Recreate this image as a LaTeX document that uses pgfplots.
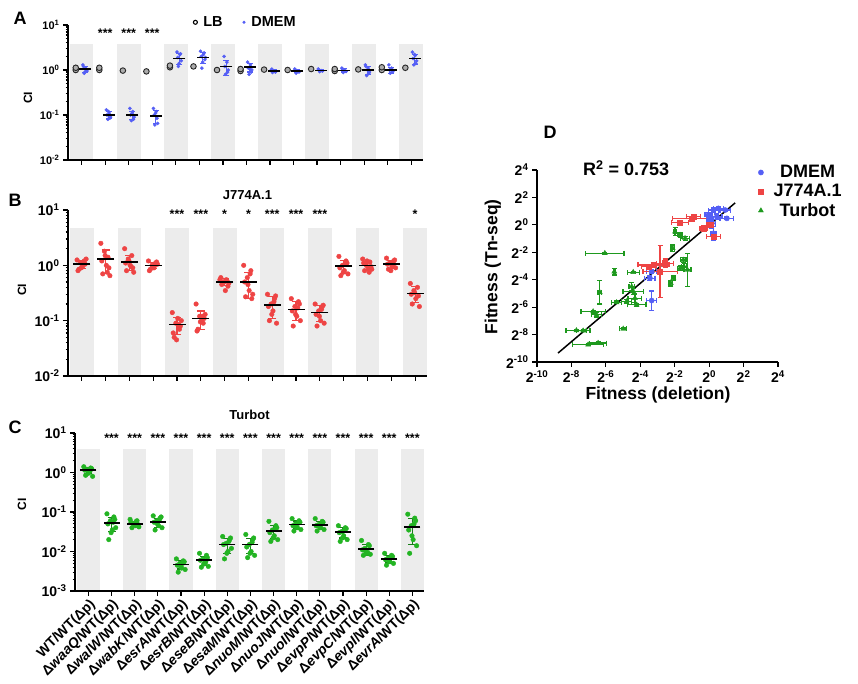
\documentclass[border=0pt]{standalone}
\usepackage{fontspec}
\setmainfont{Liberation Sans}
\usepackage{pgfplots}
\usepackage{pgfplotstable}
\pgfplotsset{compat=1.18}

\definecolor{cblue}{RGB}{85,95,245}
\definecolor{cred}{RGB}{238,68,68}
\definecolor{cgreen}{RGB}{35,180,35}
\definecolor{band}{RGB}{236,236,236}

\newcommand{\fs}[1]{\fontsize{#1}{#1}\selectfont\bfseries}
\newcommand{\bands}[2]{%
  \fill[band] (axis cs:-0.5,#1) rectangle (axis cs:0.5,#2);
  \fill[band] (axis cs:1.5,#1) rectangle (axis cs:2.5,#2);
  \fill[band] (axis cs:3.5,#1) rectangle (axis cs:4.5,#2);
  \fill[band] (axis cs:5.5,#1) rectangle (axis cs:6.5,#2);
  \fill[band] (axis cs:7.5,#1) rectangle (axis cs:8.5,#2);
  \fill[band] (axis cs:9.5,#1) rectangle (axis cs:10.5,#2);
  \fill[band] (axis cs:11.5,#1) rectangle (axis cs:12.5,#2);
  \fill[band] (axis cs:13.5,#1) rectangle (axis cs:14.5,#2);}
\newcommand{\jit}[4]{\addplot[forget plot, only marks, mark=*, #1] table[x expr=\thisrow{c}+#2, y=#3] {#4};}
\newcommand{\gl}[1]{Δ\textit{#1}/WT(Δp)}

% ---- panel A: LB / DMEM ----
\pgfplotstableread{
c  l1   l2
0  1.0  1.12
1  1.0  1.12
2  0.97 nan
3  0.93 nan
4  1.15 1.25
5  1.2  nan
6  1.0  nan
7  0.95 1.05
8  1.02 nan
9  1.0  nan
10 1.05 nan
11 0.95 1.05
12 1.03 nan
13 1.0  1.15
14 1.12 nan
}\ptsLB
\pgfplotstableread{
c  y1   y2    y3   y4    y5   y6    y7   y8
0  1.3  0.85  1.1  0.95  1.2  1.0   0.9  nan
1  0.13 0.08  0.11 0.09  0.1  0.085 0.12 nan
2  0.14 0.075 0.12 0.09  0.1  0.08  0.11 nan
3  0.14 0.06  0.12 0.065 0.1  0.085 0.11 nan
4  2.5  1.2   2.2  1.6   1.9  2.3   1.4  nan
5  2.6  1.1   2.2  1.7   2.0  2.4   1.5  1.9
6  2.0  0.8   1.5  1.0   1.2  0.9   nan  nan
7  1.5  0.8   1.3  1.0   1.1  0.9   nan  nan
8  1.0  0.88  0.95 0.9   1.05 nan   nan  nan
9  1.05 0.85  0.95 0.9   1.0  nan   nan  nan
10 1.05 0.92  0.97 0.95  1.0  nan   nan  nan
11 1.1  0.88  1.0  0.93  1.05 nan   nan  nan
12 1.3  0.75  1.1  0.9   1.2  0.85  1.0  nan
13 1.3  0.85  1.1  0.95  1.0  0.9   nan  nan
14 2.5  1.3   2.1  1.6   1.8  1.4   2.2  nan
}\ptsA
\pgfplotstableread{
c  m     sd
0  1.05  0.16
1  0.10  0.018
2  0.10  0.022
3  0.095 0.03
4  1.8   0.5
5  1.9   0.5
6  1.2   0.45
7  1.15  0.25
8  0.95  0.07
9  0.95  0.08
10 0.97  0.05
11 0.98  0.08
12 1.0   0.2
13 1.0   0.16
14 1.8   0.45
}\statA

% ---- panel B: J774A.1 ----
\pgfplotstableread{
c  y1    y2    y3    y4    y5    y6    y7    y8    y9    y10
0  1.25  0.85  1.1   0.95  1.2   1.3   0.8   1.05  0.9   1.15
1  2.5   0.7   1.8   1.0   1.4   0.65  1.2   0.9   1.5   0.75
2  2.0   0.8   1.3   1.0   1.5   0.75  1.1   0.9   1.2   0.95
3  1.2   0.85  1.0   0.9   1.1   1.05  0.8   1.15  0.95  1.0
4  0.14  0.05  0.09  0.11  0.07  0.1   0.06  0.08  0.045 0.085
5  0.2   0.07  0.12  0.1   0.09  0.13  0.065 0.11  0.095 0.12
6  0.55  0.45  0.5   0.35  0.52  0.48  0.6   0.42  0.5   0.55
7  1.0   0.27  0.6   0.35  0.8   0.3   0.5   0.25  0.45  0.7
8  0.3   0.1   0.2   0.15  0.25  0.09  0.18  0.28  0.13  0.22
9  0.25  0.08  0.18  0.12  0.22  0.1   0.15  0.2   0.13  0.17
10 0.2   0.08  0.15  0.1   0.18  0.09  0.13  0.19  0.12  0.16
11 1.45  0.65  1.0   0.8   1.2   0.7   0.9   1.1   0.75  1.05
12 1.3   0.8   1.0   0.9   1.15  0.85  1.1   0.95  1.2   0.75
13 1.35  0.85  1.1   0.95  1.2   0.9   1.05  1.25  0.8   1.0
14 0.47  0.2   0.35  0.25  0.4   0.18  0.3   0.28  0.32  nan
}\ptsB
\pgfplotstableread{
c  m     sd
0  1.05  0.17
1  1.3   0.6
2  1.15  0.35
3  1.0   0.13
4  0.085 0.028
5  0.11  0.04
6  0.5   0.07
7  0.5   0.25
8  0.19  0.08
9  0.16  0.06
10 0.14  0.045
11 0.97  0.25
12 1.0   0.18
13 1.05  0.18
14 0.31  0.1
}\statB

% ---- panel C: Turbot ----
\pgfplotstableread{
c  y1     y2     y3     y4     y5     y6     y7     y8     y9     y10
0  1.4    0.85   1.2    1.0    1.3    0.8    1.15   1.25   0.95   1.1
1  0.09   0.02   0.06   0.035  0.075  0.04   0.05   0.065  0.03   0.055
2  0.065  0.04   0.05   0.045  0.06   0.042  0.055  0.048  0.052  0.058
3  0.08   0.035  0.06   0.045  0.07   0.04   0.055  0.075  0.05   0.065
4  0.0065 0.003  0.005  0.0038 0.0058 0.0035 0.0045 0.0055 0.0042 0.005
5  0.009  0.004  0.0065 0.005  0.008  0.0042 0.006  0.007  0.0048 0.0055
6  0.024  0.0065 0.016  0.01   0.02   0.012  0.015  0.022  0.009  0.018
7  0.027  0.007  0.015  0.01   0.02   0.008  0.013  0.022  0.009  0.017
8  0.058  0.018  0.035  0.025  0.045  0.02   0.03   0.04   0.022  0.037
9  0.068  0.033  0.05   0.04   0.06   0.036  0.045  0.055  0.042  0.052
10 0.068  0.033  0.048  0.04   0.058  0.036  0.045  0.055  0.042  0.05
11 0.045  0.018  0.032  0.025  0.04   0.02   0.03   0.038  0.022  0.035
12 0.019  0.008  0.012  0.009  0.015  0.0085 0.011  0.014  0.01   0.0095
13 0.009  0.0045 0.0068 0.0055 0.008  0.005  0.0062 0.0075 0.0058 0.007
14 0.088  0.009  0.045  0.02   0.07   0.014  0.035  0.06   0.025  0.05
}\ptsC
\pgfplotstableread{
c  m      sd
0  1.15   0.2
1  0.052  0.02
2  0.05   0.008
3  0.055  0.015
4  0.0047 0.0011
5  0.006  0.0016
6  0.015  0.006
7  0.015  0.006
8  0.033  0.012
9  0.048  0.011
10 0.047  0.011
11 0.031  0.009
12 0.0115 0.0035
13 0.0065 0.0014
14 0.042  0.027
}\statC

% ---- panel D: log2 fitness ----
\pgfplotstableread{
x     y     ex   ey
-3.34 -5.52 0.3  0.7
-3.44 -3.89 0.3  0.15
-3.34 -3.41 0.3  0.15
0.06  0.35  0.2  0.3
0.25  1.08  0.3  0.15
0.54  1.20  0.3  0.1
0.93  1.08  0.3  0.1
1.03  0.47  0.4  0.1
0.25  -0.62 0.15 0.5
-0.04 0.72  0.2  0.2
0.16  0.11  0.2  0.4
0.45  0.59  0.3  0.2
0.0   0.5   0.15 0.3
}\dmem
\pgfplotstableread{
x     y     ex   ey
-2.85 -3.4  1.0  1.9
-3.24 -2.92 0.9  0.2
-2.56 -2.80 0.5  0.3
-3.53 -3.04 0.4  0.15
-1.01 0.47  1.1  0.1
-0.91 0.59  0.4  0.15
-1.69 0.18  0.5  0.1
-0.33 -0.25 0.2  0.2
0.25  -0.86 0.4  0.1
0.06  -0.01 0.2  0.2
}\jseven
\pgfplotstableread{
x     y     ex   ey
-6.06 -2.07 1.12 0.05
-5.51 -3.41 0.05 0.25
-4.41 -3.45 0.35 0.05
-6.35 -4.93 0.1  0.85
-6.74 -6.32 0.7  0.1
-6.54 -6.56 0.3  0.15
-7.71 -7.70 0.6  0.05
-7.32 -7.72 0.4  0.05
-7.03 -8.74 0.9  0.05
-6.45 -8.62 0.5  0.1
-4.99 -7.58 0.2  0.05
-5.38 -5.66 0.3  0.1
-4.80 -5.59 0.3  0.15
-4.41 -4.86 0.6  0.2
-4.31 -5.35 0.4  0.3
-4.21 -5.83 0.55 0.1
-4.50 -4.50 0.15 0.3
-1.98 -0.50 0.1  0.3
-1.69 -0.74 0.15 0.15
-1.40 -0.98 0.25 0.15
-2.12 -1.71 0.1  0.25
-1.50 -2.56 0.15 0.2
-1.46 -3.04 0.15 0.2
-1.26 -3.28 0.2  1.2
-1.69 -3.16 0.15 0.15
-2.23 -4.25 0.1  0.2
-2.08 -3.89 0.1  0.15
}\turbot

\begin{document}
\begin{tikzpicture}
\useasboundingbox (0pt,0pt) rectangle (858pt,684pt);

% ================= A =================
\begin{axis}[at={(68pt,524pt)}, anchor=south west, scale only axis,
  width=355pt, height=135pt, ymode=log,
  xmin=-0.58, xmax=14.5, ymin=0.01, ymax=10, clip=false, axis on top,
  axis x line*=bottom, axis y line*=left, axis line style={line width=1.6pt},
  tick style={black, line width=1.2pt}, tick align=outside,
  major tick length=5pt, minor tick length=2.5pt,
  xtick={0,...,14}, xticklabels={},
  ytick={0.01,0.1,1,10},
  yticklabels={10\textsuperscript{-2},10\textsuperscript{-1},10\textsuperscript{0},10\textsuperscript{1}},
  yticklabel style={font=\fs{11}},
  ylabel={CI}, ylabel style={font=\fs{12}, at={(axis description cs:-0.113,0.46)}, anchor=center},
  legend columns=2,
  legend style={at={(axis description cs:0.5,1.02)}, anchor=center, draw=none, fill=none,
    font=\fs{14.5}, /tikz/every odd column/.append style={column sep=4pt},
    /tikz/every even column/.append style={column sep=18pt}},
]
\bands{0.01}{3.8}
\addlegendimage{only marks, mark=o, black, mark size=2pt, line width=1.1pt}
\addlegendentry{LB}
\addlegendimage{only marks, mark=*, cblue, mark size=1.3pt}
\addlegendentry{DMEM}
\addplot[forget plot, only marks, mark=*, mark size=2.8pt,
  mark options={fill=gray!65, draw=black!85, line width=0.9pt}]
  table[x expr=\thisrow{c}-0.25, y=l1] {\ptsLB};
\addplot[forget plot, only marks, mark=*, mark size=2.8pt,
  mark options={fill=gray!65, draw=black!85, line width=0.9pt}]
  table[x expr=\thisrow{c}-0.25, y=l2] {\ptsLB};
\jit{cblue, mark size=1.6pt}{0.05}{y1}{\ptsA}
\jit{cblue, mark size=1.6pt}{0.11}{y2}{\ptsA}
\jit{cblue, mark size=1.6pt}{0.17}{y3}{\ptsA}
\jit{cblue, mark size=1.6pt}{0.23}{y4}{\ptsA}
\jit{cblue, mark size=1.6pt}{0.08}{y5}{\ptsA}
\jit{cblue, mark size=1.6pt}{0.20}{y6}{\ptsA}
\jit{cblue, mark size=1.6pt}{0.14}{y7}{\ptsA}
\jit{cblue, mark size=1.6pt}{0.26}{y8}{\ptsA}
\addplot[forget plot, only marks, mark=-, mark size=6pt, black, line width=1.6pt,
  error bars/y dir=both, error bars/y explicit,
  error bars/error bar style={cblue, line width=1.1pt},
  error bars/error mark options={rotate=90, cblue, mark size=3pt, line width=1.1pt}]
  table[x expr=\thisrow{c}+0.15, y=m, y error=sd] {\statA};
\addplot[forget plot, only marks, mark=none, nodes near coords={***},
  every node near coord/.style={font=\fs{12.5}, anchor=center, black}]
  coordinates {(1,6.5) (2,6.5) (3,6.5)};
\end{axis}
\node[font=\fs{18}] at (20pt,666pt) {A};

% ================= B =================
\begin{axis}[at={(68pt,308pt)}, anchor=south west, scale only axis,
  width=359pt, height=166pt, ymode=log,
  xmin=-0.58, xmax=14.5, ymin=0.01, ymax=10, clip=false, axis on top,
  axis x line*=bottom, axis y line*=left, axis line style={line width=1.6pt},
  tick style={black, line width=1.2pt}, tick align=outside,
  major tick length=5pt, minor tick length=2.5pt,
  xtick={0,...,14}, xticklabels={},
  ytick={0.01,0.1,1,10},
  yticklabels={10\textsuperscript{-2},10\textsuperscript{-1},10\textsuperscript{0},10\textsuperscript{1}},
  yticklabel style={font=\fs{14}},
  ylabel={CI}, ylabel style={font=\fs{12}, at={(axis description cs:-0.128,0.52)}, anchor=center},
]
\bands{0.01}{4.8}
\jit{cred, mark size=2.3pt}{-0.20}{y1}{\ptsB}
\jit{cred, mark size=2.3pt}{-0.12}{y2}{\ptsB}
\jit{cred, mark size=2.3pt}{-0.05}{y3}{\ptsB}
\jit{cred, mark size=2.3pt}{0.03}{y4}{\ptsB}
\jit{cred, mark size=2.3pt}{0.10}{y5}{\ptsB}
\jit{cred, mark size=2.3pt}{0.18}{y6}{\ptsB}
\jit{cred, mark size=2.3pt}{-0.16}{y7}{\ptsB}
\jit{cred, mark size=2.3pt}{0.14}{y8}{\ptsB}
\jit{cred, mark size=2.3pt}{-0.02}{y9}{\ptsB}
\jit{cred, mark size=2.3pt}{0.07}{y10}{\ptsB}
\addplot[forget plot, only marks, mark=-, mark size=8.5pt, black, line width=1.6pt,
  error bars/y dir=both, error bars/y explicit,
  error bars/error bar style={cred, line width=1.2pt},
  error bars/error mark options={rotate=90, cred, mark size=4pt, line width=1.2pt}]
  table[x=c, y=m, y error=sd] {\statB};
\addplot[forget plot, only marks, mark=none, nodes near coords={***},
  every node near coord/.style={font=\fs{12.5}, anchor=center, black}]
  coordinates {(4,8.3) (5,8.3) (8,8.3) (9,8.3) (10,8.3)};
\addplot[forget plot, only marks, mark=none, nodes near coords={*},
  every node near coord/.style={font=\fs{12.5}, anchor=center, black}]
  coordinates {(6,8.3) (7,8.3) (14,8.3)};
\node[font=\fs{13}, anchor=south] at (axis description cs:0.5,1.04) {J774A.1};
\end{axis}
\node[font=\fs{18}] at (15pt,484pt) {B};

% ================= C =================
\begin{axis}[at={(75pt,93pt)}, anchor=south west, scale only axis,
  width=349pt, height=158pt, ymode=log,
  xmin=-0.58, xmax=14.5, ymin=0.001, ymax=10, clip=false, axis on top,
  axis x line*=bottom, axis y line*=left, axis line style={line width=1.6pt},
  tick style={black, line width=1.2pt}, tick align=outside,
  major tick length=5pt, minor tick length=2.5pt,
  xtick={0,...,14},
  xticklabels={WT/WT(Δp), \gl{waaQ}, \gl{walW}, \gl{wabK}, \gl{esrA}, \gl{esrB},
    \gl{eseB}, \gl{esaM}, \gl{nuoM}, \gl{nuoJ}, \gl{nuoI}, \gl{evpP}, \gl{evpC},
    \gl{evpI}, \gl{evrA}},
  xticklabel style={rotate=45, anchor=north east, font=\fs{14}, inner sep=1pt},
  ytick={0.001,0.01,0.1,1,10},
  yticklabels={10\textsuperscript{-3},10\textsuperscript{-2},10\textsuperscript{-1},10\textsuperscript{0},10\textsuperscript{1}},
  yticklabel style={font=\fs{14}},
  ylabel={CI}, ylabel style={font=\fs{12}, at={(axis description cs:-0.152,0.55)}, anchor=center},
]
\bands{0.001}{4}
\jit{cgreen, mark size=2.3pt}{-0.20}{y1}{\ptsC}
\jit{cgreen, mark size=2.3pt}{-0.12}{y2}{\ptsC}
\jit{cgreen, mark size=2.3pt}{-0.05}{y3}{\ptsC}
\jit{cgreen, mark size=2.3pt}{0.03}{y4}{\ptsC}
\jit{cgreen, mark size=2.3pt}{0.10}{y5}{\ptsC}
\jit{cgreen, mark size=2.3pt}{0.18}{y6}{\ptsC}
\jit{cgreen, mark size=2.3pt}{-0.16}{y7}{\ptsC}
\jit{cgreen, mark size=2.3pt}{0.14}{y8}{\ptsC}
\jit{cgreen, mark size=2.3pt}{-0.02}{y9}{\ptsC}
\jit{cgreen, mark size=2.3pt}{0.07}{y10}{\ptsC}
\addplot[forget plot, only marks, mark=-, mark size=8pt, black, line width=1.6pt,
  error bars/y dir=both, error bars/y explicit,
  error bars/error bar style={cgreen!70!black, line width=1.2pt},
  error bars/error mark options={rotate=90, cgreen!70!black, mark size=4pt, line width=1.2pt}]
  table[x=c, y=m, y error=sd] {\statC};
\addplot[forget plot, only marks, mark=none, nodes near coords={***},
  every node near coord/.style={font=\fs{12.5}, anchor=center, black}]
  coordinates {(1,7.2) (2,7.2) (3,7.2) (4,7.2) (5,7.2) (6,7.2) (7,7.2)
    (8,7.2) (9,7.2) (10,7.2) (11,7.2) (12,7.2) (13,7.2) (14,7.2)};
\node[font=\fs{13}, anchor=south] at (axis description cs:0.5,1.06) {Turbot};
\end{axis}
\node[font=\fs{18}] at (15pt,257pt) {C};

% ================= D =================
\begin{axis}[at={(537pt,322pt)}, anchor=south west, scale only axis,
  width=241pt, height=192pt,
  xmin=-10, xmax=4, ymin=-10, ymax=4, clip=false,
  axis x line*=bottom, axis y line*=left,
  axis line style={line width=1.6pt},
  tick style={black, line width=1.2pt}, tick align=outside, major tick length=5pt,
  xtick={-10,-8,...,4}, ytick={-10,-8,...,4},
  xticklabels={2\textsuperscript{-10},2\textsuperscript{-8},2\textsuperscript{-6},2\textsuperscript{-4},2\textsuperscript{-2},2\textsuperscript{0},2\textsuperscript{2},2\textsuperscript{4}},
  yticklabels={2\textsuperscript{-10},2\textsuperscript{-8},2\textsuperscript{-6},2\textsuperscript{-4},2\textsuperscript{-2},2\textsuperscript{0},2\textsuperscript{2},2\textsuperscript{4}},
  ticklabel style={font=\fs{14}},
  xlabel={Fitness (deletion)}, ylabel={Fitness (Tn-seq)},
  xlabel style={font=\fs{17.5}, at={(axis description cs:0.502,-0.172)}, anchor=center},
  ylabel style={font=\fs{17.5}, at={(axis description cs:-0.183,0.495)}, anchor=center},
  legend style={at={(axis description cs:0.905,1.045)}, anchor=north west, draw=none, fill=none,
    font=\fs{18}, row sep=1pt, /tikz/every odd column/.append style={column sep=8pt}},
]
\addplot[forget plot, black, line width=1.5pt] coordinates {(-8.78,-9.35) (1.51,1.6)};
\addplot[cblue, only marks, mark=*, mark size=2.6pt,
  error bars/x dir=both, error bars/x explicit, error bars/y dir=both, error bars/y explicit,
  error bars/error bar style={line width=1.3pt},
  error bars/error mark options={rotate=90, mark size=2.5pt, line width=1.3pt}]
  table[x=x, y=y, x error=ex, y error=ey] {\dmem};
\addlegendentry{DMEM}
\addplot[cred, only marks, mark=square*, mark size=2.6pt,
  error bars/x dir=both, error bars/x explicit, error bars/y dir=both, error bars/y explicit,
  error bars/error bar style={line width=1.3pt},
  error bars/error mark options={rotate=90, mark size=2.5pt, line width=1.3pt}]
  table[x=x, y=y, x error=ex, y error=ey] {\jseven};
\addlegendentry{J774A.1}
\addplot[cgreen!85!black, only marks, mark=triangle*, mark size=2.9pt,
  error bars/x dir=both, error bars/x explicit, error bars/y dir=both, error bars/y explicit,
  error bars/error bar style={line width=1.3pt},
  error bars/error mark options={rotate=90, mark size=2.5pt, line width=1.3pt}]
  table[x=x, y=y, x error=ex, y error=ey] {\turbot};
\addlegendentry{Turbot}
\node[font=\fs{18}] at (axis description cs:0.37,1.01) {R\textsuperscript{2} = 0.753};
\end{axis}
\node[font=\fs{18}] at (550pt,552pt) {D};
\end{tikzpicture}
\end{document}
